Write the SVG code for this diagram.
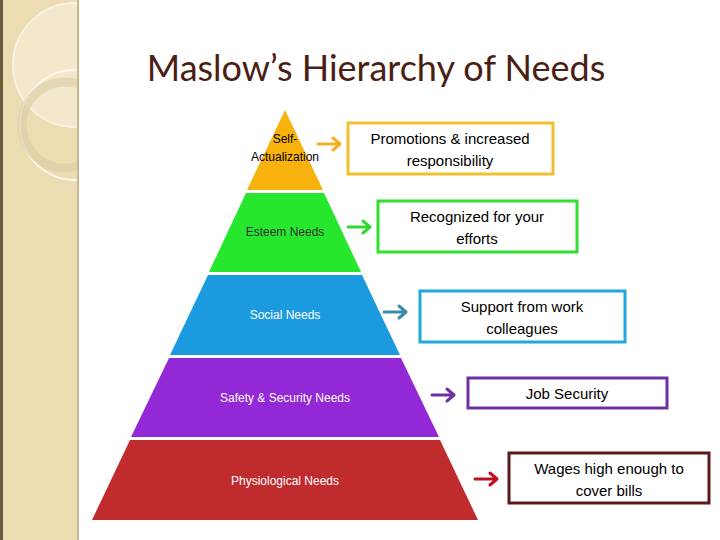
<svg xmlns="http://www.w3.org/2000/svg" width="720" height="540" viewBox="0 0 720 540">
<style>
.lbl{font-family:"Liberation Sans",Arial,sans-serif;font-size:12px;text-anchor:middle}
.box{fill:#fff;stroke-width:3}
.bt{font-family:"Liberation Sans",Arial,sans-serif;font-size:15px;text-anchor:middle;fill:#000}
</style>
<defs>
<clipPath id="side"><rect x="0" y="0" width="78" height="540"/></clipPath>
</defs>
<rect width="720" height="540" fill="#fff"/>
<g id="sidebar">
<rect x="0" y="0" width="78" height="540" fill="#ecdcb2"/>
<g clip-path="url(#side)">
<circle cx="75" cy="65" r="62" fill="#f3e8cc" stroke="#f8f2e2" stroke-width="2"/>
<circle cx="75" cy="125" r="55" fill="none" stroke="#fbf6ea" stroke-width="2"/>
<circle cx="65" cy="125" r="43" fill="none" stroke="#dccca4" stroke-width="9" opacity="0.6"/>
</g>
<line x1="78" y1="0" x2="78" y2="540" stroke="#c8b68e" stroke-width="2"/>
<rect x="0" y="0" width="3" height="540" fill="#6a5a3a"/>
</g>
<text x="376" y="81" font-family="'Gill Sans','Lato','Liberation Sans',sans-serif" font-size="36" fill="#4a1e14" text-anchor="middle">Maslow’s Hierarchy of Needs</text>
<g id="n-self"><polygon points="285,110 323,190 247,190" fill="#f8b20e"/><text class="lbl" x="285" y="143">Self-</text><text class="lbl" x="285" y="161">Actualization</text></g>
<g id="n-esteem"><polygon points="246,193 324,193 361,272 209,272" fill="#26e62e"/><text class="lbl" x="285" y="236" fill="#333">Esteem Needs</text></g>
<g id="n-social"><polygon points="208,275 362,275 400,355 170,355" fill="#1c9ae0"/><text class="lbl" x="285" y="319" fill="#fff">Social Needs</text></g>
<g id="n-safety"><polygon points="169,358 401,358 439,437 131,437" fill="#9228d6"/><text class="lbl" x="285" y="402" fill="#fff">Safety &amp; Security Needs</text></g>
<g id="n-phys"><polygon points="130,440 440,440 478,520 92,520" fill="#c02c2e"/><text class="lbl" x="285" y="485" fill="#fff">Physiological Needs</text></g>
<g id="b1"><rect class="box" x="348" y="123" width="205" height="51" stroke="#f0c030"/><text class="bt" x="450" y="144">Promotions &amp; increased</text><text class="bt" x="450" y="166">responsibility</text></g>
<g id="b2"><rect class="box" x="378" y="201" width="199" height="51" stroke="#30e030"/><text class="bt" x="477" y="222">Recognized for your</text><text class="bt" x="477" y="244">efforts</text></g>
<g id="b3"><rect class="box" x="420" y="291" width="205" height="51" stroke="#20a8d8"/><text class="bt" x="522" y="312">Support from work</text><text class="bt" x="522" y="334">colleagues</text></g>
<g id="b4"><rect class="box" x="468" y="378" width="199" height="30" stroke="#7030a0"/><text class="bt" x="567" y="399">Job Security</text></g>
<g id="b5"><rect class="box" x="509" y="453" width="200" height="50" stroke="#5a1a1a"/><text class="bt" x="609" y="474">Wages high enough to</text><text class="bt" x="609" y="496">cover bills</text></g>
<g id="connectors" stroke-width="3" fill="none" stroke-linecap="round" stroke-linejoin="round">
<path d="M318 144H340M333 138L340 144L333 150" stroke="#f0b020"/>
<path d="M348 227H370M363 221L370 227L363 233" stroke="#30d830"/>
<path d="M384 312H406M399 306L406 312L399 318" stroke="#3a8aa8"/>
<path d="M432 395H454M447 389L454 395L447 401" stroke="#7030a0"/>
<path d="M475 479H497M490 473L497 479L490 485" stroke="#c01020"/>
</g>
</svg>
